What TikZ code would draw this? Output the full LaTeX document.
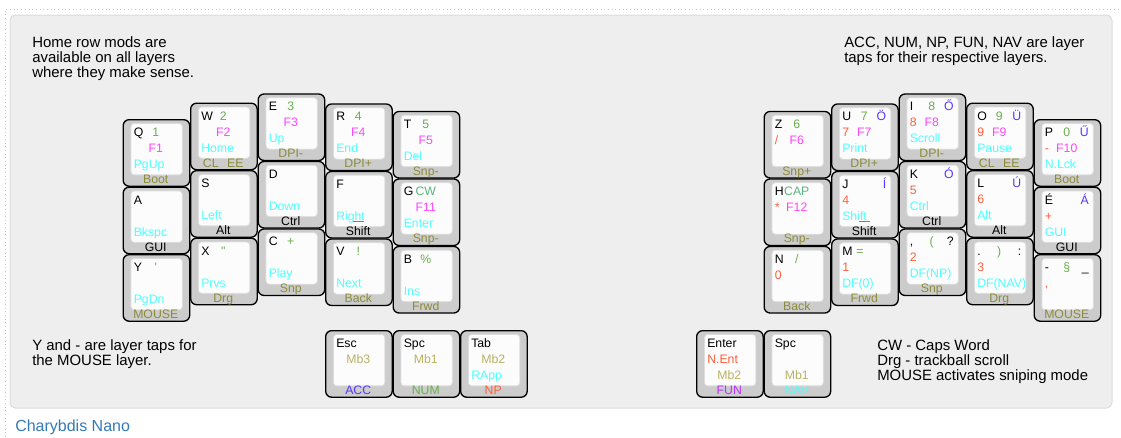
\documentclass[tikz,border=0pt]{standalone}
\usepackage{fontspec}
\setmainfont{Liberation Sans}
\definecolor{kgray}{HTML}{CCCCCC}
\definecolor{ktop}{HTML}{FCFCFC}
\definecolor{kedge}{HTML}{DDDDDD}
\definecolor{panelc}{HTML}{EEEEEE}
\definecolor{paneledge}{HTML}{DCDCDC}
\definecolor{cya}{RGB}{80,255,255}
\definecolor{mag}{RGB}{255,70,255}
\definecolor{grn}{RGB}{105,175,80}
\definecolor{npc}{RGB}{255,95,60}
\definecolor{accc}{RGB}{85,55,255}
\definecolor{func}{RGB}{185,50,255}
\definecolor{olv}{RGB}{140,140,60}
\definecolor{khk}{RGB}{185,178,100}
\definecolor{cwc}{RGB}{90,180,130}
\definecolor{linkc}{RGB}{51,122,183}
\tikzset{
 keyout/.style={draw=black, line width=1pt, fill=kgray, rounded corners=4.5pt,
   minimum width=49.9pt, minimum height=49.9pt, inner sep=0pt, anchor=north west},
 keyin/.style={draw=kedge, line width=0.6pt, fill=ktop, rounded corners=2.5pt,
   minimum width=38.6pt, minimum height=38.6pt, inner sep=0pt, anchor=north west},
 lgs/.style={inner sep=0pt, font=\fontsize{9.2pt}{11pt}\selectfont},
 note/.style={inner sep=0pt, font=\fontsize{11.2pt}{11.25pt}\selectfont, align=left, anchor=north west},
 nub/.style={draw=gray, line width=0.8pt},
}
\newcommand\Key[3]{\node[keyout] (#1) at (#2,#3) {};
  \node[keyin] (#1i) at ([shift={(8,4)}]#1.north west) {};}
\newcommand\klTL[3][black]{\node[lgs,text=#1,anchor=base west] (#2tl) at ([shift={(11,17.5)}]#2.north west) {#3};}
\newcommand\klTC[3][grn]{\node[lgs,text=#1,anchor=base] (#2tc) at ([shift={(33.25,17.5)}]#2.north west) {#3};}
\newcommand\klTR[3][accc]{\node[lgs,text=#1,anchor=base east] (#2tr) at ([shift={(55.5,17.5)}]#2.north west) {#3};}
\newcommand\klCL[3][npc]{\node[lgs,text=#1,anchor=base west] (#2cl) at ([shift={(11,33.5)}]#2.north west) {#3};}
\newcommand\klCC[3][mag]{\node[lgs,text=#1,anchor=base] (#2cc) at ([shift={(33.25,33.5)}]#2.north west) {#3};}
\newcommand\klBL[3][cya]{\node[lgs,text=#1,anchor=base west] (#2bl) at ([shift={(11,49.5)}]#2.north west) {#3};}
\newcommand\klBC[3][khk]{\node[lgs,text=#1,anchor=base] (#2bc) at ([shift={(33.25,49.5)}]#2.north west) {#3};}
\newcommand\klFR[3][olv]{\node[lgs,text=#1,anchor=base] (#2fr) at ([shift={(33.25,64.5)}]#2.north west) {#3};}
\newcommand\klNub[1]{\coordinate (#1na) at ([shift={(28,50.5)}]#1.north west);
  \coordinate (#1nb) at ([shift={(39,50.5)}]#1.north west); \draw[nub] (#1na) -- (#1nb);}
\newcommand\clee{CL\hspace{6.5pt}EE}
\begin{document}
\begin{tikzpicture}[x=0.75pt,y=-0.75pt]
\useasboundingbox (0,0) rectangle (1121,437);
\draw[black!22, dotted, line width=0.75pt] (5.5,437) -- (5.5,9) -- (1121,9);
\draw[fill=panelc, draw=paneledge, line width=0.75pt, rounded corners=4pt] (10,15) rectangle (1112,408);
% notes
\node[note] (n1) at (32,36) {Home row mods are\\available on all layers\\where they make sense.};
\node[note] (n2) at (844,36) {ACC, NUM, NP, FUN, NAV are layer\\taps for their respective layers.};
\node[note] (n3) at (32,339.5) {Y and - are layer taps for\\the MOUSE layer.};
\node[note] (n4) at (877,339.5) {CW - Caps Word\\Drg - trackball scroll\\MOUSE activates sniping mode};
\node[inner sep=0pt, anchor=base west, text=linkc, font=\fontsize{12pt}{14pt}\selectfont] (title) at (15,431) {Charybdis Nano};
% left half
\Key{q}{122.5}{119} \klTL{q}{Q} \klTC{q}{1} \klCC{q}{F1} \klBL{q}{PgUp} \klFR{q}{Boot}
\Key{w}{190}{102.5} \klTL{w}{W} \klTC{w}{2} \klCC{w}{F2} \klBL{w}{Home} \klFR{w}{\clee}
\Key{e}{257.5}{93.3} \klTL{e}{E} \klTC{e}{3} \klCC{e}{F3} \klBL{e}{Up} \klFR{e}{DPI-}
\Key{r}{325}{103.3} \klTL{r}{R} \klTC{r}{4} \klCC{r}{F4} \klBL{r}{End} \klFR{r}{DPI+}
\Key{t}{392.5}{110.8} \klTL{t}{T} \klTC{t}{5} \klCC{t}{F5} \klBL{t}{Del} \klFR{t}{Snp-}
\Key{a}{122.5}{186.5} \klTL{a}{A} \klBL{a}{Bkspc} \klFR[black]{a}{GUI}
\Key{s}{190}{170} \klTL{s}{S} \klBL{s}{Left} \klFR[black]{s}{Alt}
\Key{d}{257.5}{160.8} \klTL{d}{D} \klBL{d}{Down} \klFR[black]{d}{Ctrl}
\Key{f}{325}{170.8} \klTL{f}{F} \klBL{f}{Right} \klNub{f} \klFR[black]{f}{Shift}
\Key{g}{392.5}{178.3} \klTL{g}{G} \klTC[cwc]{g}{CW} \klCC{g}{F11} \klBL{g}{Enter} \klFR{g}{Snp-}
\Key{y}{122.5}{254} \klTL{y}{Y} \klTC{y}{\textquotesingle} \klBL{y}{PgDn} \klFR{y}{MOUSE}
\Key{x}{190}{237.5} \klTL{x}{X} \klTC{x}{\textquotedbl} \klBL{x}{Prvs} \klFR{x}{Drg}
\Key{c}{257.5}{228.3} \klTL{c}{C} \klTC{c}{+} \klBL{c}{Play} \klFR{c}{Snp}
\Key{v}{325}{238.3} \klTL{v}{V} \klTC{v}{!} \klBL{v}{Next} \klFR{v}{Back}
\Key{b}{392.5}{245.8} \klTL{b}{B} \klTC{b}{\%} \klBL{b}{Ins} \klFR{b}{Frwd}
% right half
\Key{z}{763.5}{110.8} \klTL{z}{Z} \klTC{z}{6} \klCL{z}{/} \klCC{z}{F6} \klFR{z}{Snp+}
\Key{u}{831}{103.3} \klTL{u}{U} \klTC{u}{7} \klTR{u}{Ö} \klCL{u}{7} \klCC{u}{F7} \klBL{u}{Print} \klFR{u}{DPI+}
\Key{i}{898.5}{93.3} \klTL{i}{I} \klTC{i}{8} \klTR{i}{Ő} \klCL{i}{8} \klCC{i}{F8} \klBL{i}{Scroll} \klFR{i}{DPI-}
\Key{o}{966}{102.5} \klTL{o}{O} \klTC{o}{9} \klTR{o}{Ü} \klCL{o}{9} \klCC{o}{F9} \klBL{o}{Pause} \klFR{o}{\clee}
\Key{p}{1033.5}{119} \klTL{p}{P} \klTC{p}{0} \klTR{p}{Ű} \klCL{p}{-} \klCC{p}{F10} \klBL{p}{N.Lck} \klFR{p}{Boot}
\Key{h}{763.5}{178.3} \klTL{h}{H} \klTC[cwc]{h}{CAP} \klCL{h}{*} \klCC{h}{F12} \klFR{h}{Snp-}
\Key{j}{831}{170.8} \klTL{j}{J} \klTR{j}{Í} \klCL{j}{4} \klBL{j}{Shift} \klNub{j} \klFR[black]{j}{Shift}
\Key{k}{898.5}{160.8} \klTL{k}{K} \klTR{k}{Ó} \klCL{k}{5} \klBL{k}{Ctrl} \klFR[black]{k}{Ctrl}
\Key{l}{966}{170} \klTL{l}{L} \klTR{l}{Ú} \klCL{l}{6} \klBL{l}{Alt} \klFR[black]{l}{Alt}
\Key{ea}{1033.5}{186.5} \klTL{ea}{É} \klTR{ea}{Á} \klCL{ea}{+} \klBL{ea}{GUI} \klFR[black]{ea}{GUI}
\Key{n}{763.5}{245.8} \klTL{n}{N} \klTC{n}{/} \klCL{n}{0} \klFR{n}{Back}
\Key{m}{831}{238.3} \klTL{m}{M} \node[lgs,text=grn,anchor=base] (mtc) at ([shift={(29,17.5)}]m.north west) {=}; \klCL{m}{1} \klBL{m}{DF(0)} \klFR{m}{Frwd}
\Key{cm}{898.5}{228.3} \klTL{cm}{,} \klTC{cm}{(} \klTR[black]{cm}{?} \klCL{cm}{2} \klBL{cm}{DF(NP)} \klFR{cm}{Snp}
\Key{dt}{966}{237.5} \klTL{dt}{.} \klTC{dt}{)} \klTR[black]{dt}{:} \klCL{dt}{3} \klBL{dt}{DF(NAV)} \klFR{dt}{Drg}
\Key{mn}{1033.5}{254} \klTL{mn}{-} \klTC{mn}{\S} \klTR[black]{mn}{\_} \klCL{mn}{,} \klFR{mn}{MOUSE}
% thumbs
\Key{esc}{325}{330} \klTL{esc}{Esc} \klCC[khk]{esc}{Mb3} \klFR[accc]{esc}{ACC}
\Key{spcl}{392.5}{330} \klTL{spcl}{Spc} \klCC[khk]{spcl}{Mb1} \klFR[grn]{spcl}{NUM}
\Key{tab}{460}{330} \klTL{tab}{Tab} \klCC[khk]{tab}{Mb2} \klBL{tab}{RApp} \klFR[npc]{tab}{NP}
\Key{ent}{696}{330} \klTL{ent}{Enter} \klCL{ent}{N.Ent} \klBC{ent}{Mb2} \klFR[func]{ent}{FUN}
\Key{spcr}{763.5}{330} \klTL{spcr}{Spc} \klBC{spcr}{Mb1} \klFR[cya]{spcr}{NAV}
\end{tikzpicture}
\end{document}
